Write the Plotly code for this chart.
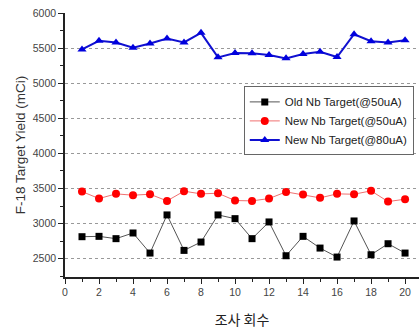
import plotly.graph_objects as go

runs = list(range(1, 21))
old_50 = [2814, 2819, 2786, 2867, 2581, 3124, 2619, 2738, 3124, 3071,
          2786, 3024, 2543, 2819, 2652, 2524, 3038, 2557, 2714, 2581]
new_50 = [3457, 3357, 3424, 3405, 3419, 3324, 3462, 3424, 3433, 3329,
          3324, 3357, 3452, 3414, 3367, 3424, 3419, 3467, 3314, 3348]
new_80 = [5481, 5604, 5580, 5505, 5566, 5637, 5580, 5717, 5368, 5429,
          5425, 5401, 5354, 5415, 5448, 5373, 5698, 5599, 5580, 5613]
names = ["Old Nb Target(@50uA)", "New Nb Target(@50uA)", "New Nb Target(@80uA)"]

fig = go.Figure()
fig.add_trace(go.Scatter(x=runs, y=old_50, name=names[0], mode="lines+markers",
                         line=dict(color="#555555", width=1),
                         marker=dict(symbol="square", size=7, color="#000000")))
fig.add_trace(go.Scatter(x=runs, y=new_50, name=names[1], mode="lines+markers",
                         line=dict(color="#f07070", width=1),
                         marker=dict(symbol="circle", size=8, color="#ff0000")))
fig.add_trace(go.Scatter(x=runs, y=new_80, name=names[2], mode="lines+markers",
                         line=dict(color="#1010d0", width=2),
                         marker=dict(symbol="triangle-up", size=8, color="#0000dd")))

fig.update_layout(
    width=419, height=329,
    margin=dict(l=65, r=0, t=13, b=52, autoexpand=False),
    paper_bgcolor="white", plot_bgcolor="white",
    font=dict(family="Liberation Sans, Arial", color="#444444", size=10.5),
    legend=dict(x=0.505, y=0.722, xanchor="left", yanchor="top",
                bordercolor="#666666", borderwidth=1, bgcolor="white",
                font=dict(size=11.5, color="#222222"),
                itemwidth=30, tracegroupgap=0),
    showlegend=True,
)
fig.update_xaxes(range=[0, 20.82], dtick=2, tick0=0, showgrid=False, zeroline=False,
                 automargin=False,
                 showline=True, linecolor="#222222", linewidth=1.5,
                 ticks="outside", ticklen=5, tickcolor="#222222",
                 minor=dict(ticks="outside", ticklen=3, dtick=1, tickcolor="#222222"),
                 title=dict(text="조사 회수", standoff=18,
                            font=dict(family="Noto Sans CJK KR", size=14, color="#222222")))
fig.update_yaxes(range=[2240, 6000], dtick=500, tick0=0, showgrid=True,
                 automargin=False,
                 gridcolor="#999999", griddash="dot", gridwidth=1, zeroline=False,
                 showline=True, linecolor="#222222", linewidth=1.5,
                 ticks="outside", ticklen=5, tickcolor="#222222",
                 minor=dict(ticks="outside", ticklen=3, dtick=250, tickcolor="#222222"),
                 title=dict(text="F-18 Target Yield (mCi)", standoff=4,
                            font=dict(size=13.5, color="#333333")))

fig.write_html("out.html", config={"displayModeBar": False},
               post_script="document.body.style.margin='0';")
